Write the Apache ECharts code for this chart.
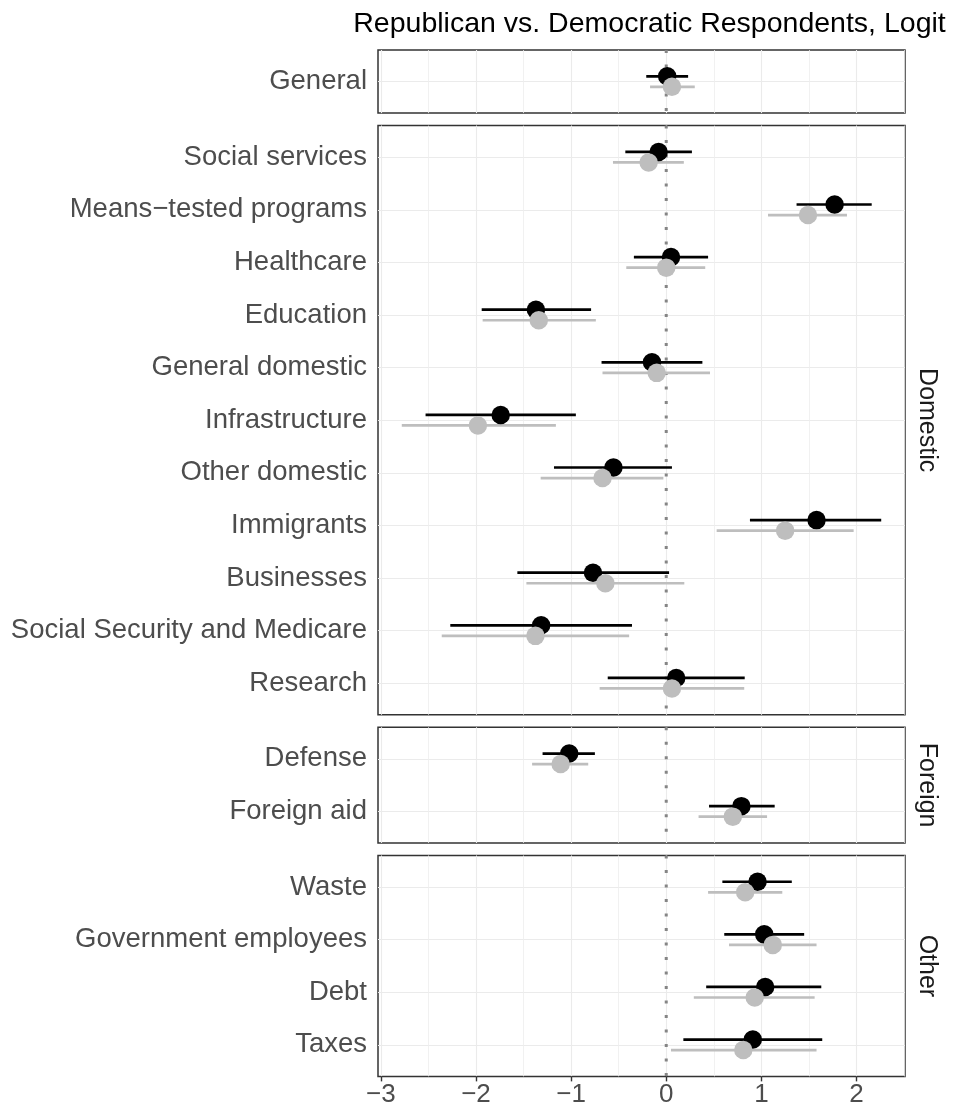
<!DOCTYPE html>
<html>
<head>
<meta charset="utf-8">
<script src="https://cdn.jsdelivr.net/npm/echarts@6/dist/echarts.min.js"></script>
<style>
html,body{margin:0;padding:0;background:#fff;}
#chart{width:953px;height:1110px;}
</style>
</head>
<body>
<div id="chart"></div>
<script>
// ---- data ----
const titleText = 'Republican vs. Democratic Respondents, Logit';
const categories = ['General','Social services','Means\u2212tested programs','Healthcare','Education','General domestic','Infrastructure','Other domestic','Immigrants','Businesses','Social Security and Medicare','Research','Defense','Foreign aid','Waste','Government employees','Debt','Taxes'];
const groupOf = ['General','Domestic','Domestic','Domestic','Domestic','Domestic','Domestic','Domestic','Domestic','Domestic','Domestic','Domestic','Foreign','Foreign','Other','Other','Other','Other'];
const panels = ['General','Domestic','Foreign','Other'];
const stripLabels = ['', 'Domestic', 'Foreign', 'Other'];
const blackEst = [0.01, -0.08, 1.77, 0.05, -1.37, -0.15, -1.74, -0.555, 1.58, -0.77, -1.315, 0.105, -1.02, 0.79, 0.96, 1.03, 1.04, 0.91];
const blackLo  = [-0.21, -0.43, 1.37, -0.34, -1.94, -0.68, -2.53, -1.18, 0.88, -1.565, -2.27, -0.615, -1.30, 0.45, 0.59, 0.61, 0.42, 0.18];
const blackHi  = [0.23, 0.27, 2.16, 0.44, -0.79, 0.38, -0.95, 0.06, 2.26, 0.03, -0.36, 0.825, -0.75, 1.14, 1.32, 1.45, 1.63, 1.64];
const grayEst  = [0.06, -0.185, 1.49, 0.0, -1.34, -0.10, -1.98, -0.67, 1.25, -0.64, -1.375, 0.06, -1.11, 0.70, 0.83, 1.12, 0.93, 0.81];
const grayLo   = [-0.17, -0.56, 1.07, -0.42, -1.93, -0.67, -2.78, -1.32, 0.53, -1.47, -2.36, -0.70, -1.41, 0.34, 0.44, 0.66, 0.29, 0.05];
const grayHi   = [0.30, 0.185, 1.90, 0.41, -0.74, 0.46, -1.16, -0.03, 1.97, 0.19, -0.39, 0.82, -0.82, 1.06, 1.22, 1.58, 1.56, 1.58];
const xTicks = [-3, -2, -1, 0, 1, 2];
const xMin = -3.03, xMax = 2.51;
const refLine = 0;

// ---- layout / style ----
const FONT = '"Liberation Sans", Arial, Helvetica, sans-serif';
const unit = 52.6, gap = 12.5, top0 = 50;
const gridLeft = 378, gridWidth = 527;
const dodge = 0.1;
const BLACK = '#000000', GRAY = '#BEBEBE';

const chart = echarts.init(document.getElementById('chart'), null, {renderer: 'canvas'});

const grids = [], xAxes = [], yAxes = [], series = [], graphics = [];
let curTop = top0;

function fmtNum(v) { return v < 0 ? '\u2212' + Math.abs(v) : String(v); }

function barSeries(gi, data, color, z) {
  return {
    type: 'custom', xAxisIndex: gi, yAxisIndex: gi, z: z, silent: true,
    data: data,
    encode: {x: [1, 2], y: 0},
    renderItem: function (params, api) {
      const y = api.value(0), lo = api.value(1), hi = api.value(2);
      const p1 = api.coord([lo, y]), p2 = api.coord([hi, y]);
      return {type: 'line', shape: {x1: p1[0], y1: p1[1], x2: p2[0], y2: p2[1]},
              style: {stroke: color, lineWidth: 2.7}};
    }
  };
}

panels.forEach(function (p, gi) {
  const idx = [];
  groupOf.forEach(function (g, i) { if (g === p) idx.push(i); });
  const n = idx.length;
  const h = (n - 1 + 1.2) * unit;
  const names = idx.map(function (i) { return categories[i]; });
  const local = idx.map(function (_, k) { return k; });
  const isLast = gi === panels.length - 1;

  grids.push({left: gridLeft, width: gridWidth, top: curTop, height: h,
              show: true, borderColor: '#333333', borderWidth: 1.5, backgroundColor: '#fff'});

  xAxes.push({
    type: 'value', gridIndex: gi, min: xMin, max: xMax, splitNumber: 5, position: 'bottom',
    axisLine: {show: false, onZero: false},
    axisTick: {show: isLast, customValues: xTicks, length: 5, lineStyle: {color: '#333333', width: 1.4}},
    axisLabel: {show: isLast, customValues: xTicks, formatter: fmtNum, fontSize: 26, color: '#4D4D4D', fontFamily: FONT, margin: 5},
    splitLine: {show: true, lineStyle: {color: '#EBEBEB', width: 1.1}},
    minorTick: {show: false, splitNumber: 2},
    minorSplitLine: {show: true, lineStyle: {color: '#EEEEEE', width: 0.8}}
  });

  yAxes.push({
    type: 'value', gridIndex: gi, min: -0.6, max: n - 1 + 0.6, inverse: true, position: 'left',
    axisLine: {show: false, onZero: false},
    axisTick: {show: false, customValues: local},
    axisLabel: {show: true, customValues: local, formatter: function (v) { return names[Math.round(v)] || ''; },
                fontSize: 27.5, color: '#4D4D4D', fontFamily: FONT, margin: 11},
    splitLine: {show: true, lineStyle: {color: '#EBEBEB', width: 1.1}}
  });

  // zero reference line
  series.push({
    type: 'line', xAxisIndex: gi, yAxisIndex: gi, z: 2, silent: true, symbol: 'none',
    data: [[refLine, -0.6], [refLine, n - 1 + 0.6]],
    lineStyle: {color: '#858585', width: 3, type: [3, 11.5]}
  });

  series.push(barSeries(gi, idx.map(function (i, k) { return [k - dodge, blackLo[i], blackHi[i]]; }), BLACK, 3));
  series.push(barSeries(gi, idx.map(function (i, k) { return [k + dodge, grayLo[i], grayHi[i]]; }), GRAY, 3));
  series.push({
    type: 'scatter', xAxisIndex: gi, yAxisIndex: gi, z: 4, silent: true, symbolSize: 18.5,
    itemStyle: {color: BLACK, opacity: 1},
    data: idx.map(function (i, k) { return [blackEst[i], k - dodge]; })
  });
  series.push({
    type: 'scatter', xAxisIndex: gi, yAxisIndex: gi, z: 5, silent: true, symbolSize: 18.5,
    itemStyle: {color: GRAY, opacity: 1},
    data: idx.map(function (i, k) { return [grayEst[i], k + dodge]; })
  });

  if (stripLabels[gi]) {
    graphics.push({
      type: 'text', x: gridLeft + gridWidth + 22, y: curTop + h / 2, rotation: -Math.PI / 2,
      style: {text: stripLabels[gi], fontSize: 25, fill: '#1A1A1A', fontFamily: FONT,
              align: 'center', verticalAlign: 'middle'}
    });
  }
  curTop += h + gap;
});

graphics.push({
  type: 'text', x: gridLeft + gridWidth / 2 + 8, y: 24,
  style: {text: titleText, fontSize: 28.5, fill: '#000000', fontFamily: FONT,
          align: 'center', verticalAlign: 'middle'}
});

chart.setOption({
  animation: false,
  backgroundColor: '#ffffff',
  grid: grids,
  xAxis: xAxes,
  yAxis: yAxes,
  series: series,
  graphic: graphics
});
</script>
</body>
</html>
